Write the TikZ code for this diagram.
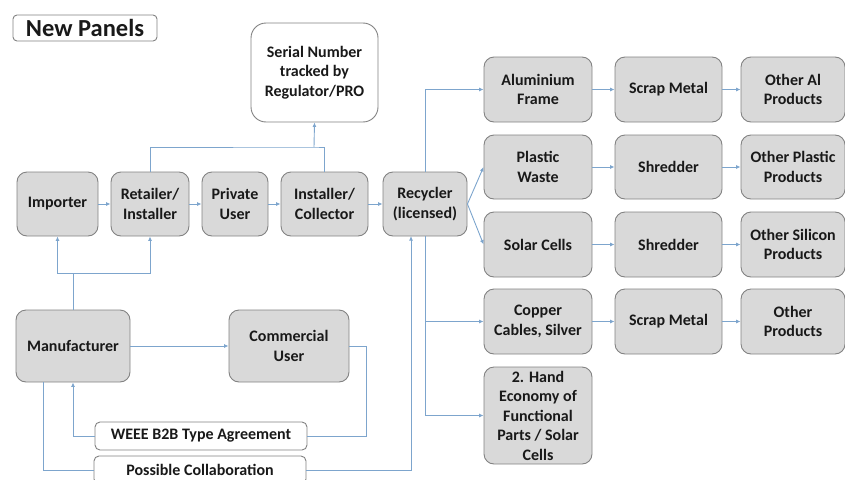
\documentclass[tikz,border=0pt]{standalone}
\usepackage{fontspec}
\setmainfont{Carlito}
\usetikzlibrary{arrows.meta}
\definecolor{boxfill}{RGB}{217,217,217}
\definecolor{boxline}{RGB}{130,130,130}
\definecolor{conn}{RGB}{125,165,205}
\definecolor{txt}{RGB}{25,25,25}
\tikzset{
  gbox/.style={draw=boxline, fill=boxfill, line width=0.9pt, rounded corners=10pt,
    inner sep=0pt, align=center, text=txt, font=\bfseries\fontsize{16}{19.5}\selectfont},
  wbox/.style={gbox, fill=white},
  cline/.style={draw=conn, line width=0.9pt},
  arr/.style={cline, -{Latex[length=4.5pt,width=4pt]}},
}
\newcommand{\bx}[7]{%
  \node[#1, minimum width=#5-#3, minimum height=#6-#4] (#2) at ({(#3+#5)/2},{(#4+#6)/2}) {#7};}
\begin{document}
\begin{tikzpicture}[x=1pt,y=-1pt]
\useasboundingbox (0,0) rectangle (845,479);
% title
\bx{wbox, rounded corners=4pt, font=\bfseries\fontsize{24.5}{28}\selectfont}{title}{13}{15}{157}{41}{New Panels}
\bx{wbox, rounded corners=15pt}{serial}{251}{23}{378}{122}{Serial Number\\tracked by\\Regulator/PRO}
% row 1
\bx{gbox}{imp}{17}{172}{98}{236}{Importer}
\bx{gbox}{ret}{111}{172}{189}{236}{Retailer/\\Installer}
\bx{gbox}{priv}{202}{172}{268}{236}{Private\\User}
\bx{gbox}{inst}{281}{172}{368}{236}{Installer/\\Collector}
\bx{gbox}{rec}{383}{172}{467}{236}{Recycler\\(licensed)}
% lower left
\bx{gbox}{man}{16}{310}{130}{382}{Manufacturer}
\bx{gbox}{com}{229}{310}{349}{382}{Commercial\\User}
\bx{wbox, rounded corners=5pt}{weee}{95}{422}{307}{450}{WEEE B2B Type Agreement}
\bx{wbox, rounded corners=5pt}{poss}{94}{456}{306}{484}{Possible Collaboration}
% right block
\bx{gbox}{al}{484}{57}{592}{122}{Aluminium\\Frame}
\bx{gbox}{scrapA}{615}{57}{722}{122}{Scrap Metal}
\bx{gbox}{otherAl}{741}{57}{845}{122}{Other Al\\Products}
\bx{gbox}{plast}{484}{135}{592}{199}{Plastic\\Waste}
\bx{gbox}{shredA}{615}{135}{722}{199}{Shredder}
\bx{gbox}{otherPl}{741}{135}{845}{199}{Other Plastic\\Products}
\bx{gbox}{solar}{484}{212}{592}{277}{Solar Cells}
\bx{gbox}{shredB}{615}{212}{722}{277}{Shredder}
\bx{gbox}{otherSi}{741}{212}{845}{277}{Other Silicon\\Products}
\bx{gbox}{copper}{484}{289}{592}{354}{Copper\\Cables, Silver}
\bx{gbox}{scrapB}{615}{289}{722}{354}{Scrap Metal}
\bx{gbox}{otherPr}{741}{289}{845}{354}{Other\\Products}
\bx{gbox}{hand}{484}{367}{592}{464}{2. Hand\\Economy of\\Functional\\Parts / Solar\\Cells}
% coordinates
\coordinate (topbar) at (314,147);
\coordinate (mj) at (73,273);
\coordinate (comr) at (366,346);
\coordinate (mandown) at (43,382);
\coordinate (recin) at (411,236);
% row 1 arrows
\draw[arr] (imp.east) -- (ret.west);
\draw[arr] (ret.east) -- (priv.west);
\draw[arr] (priv.east) -- (inst.west);
\draw[arr] (inst.east) -- (rec.west);
% serial number tracking
\draw[cline] (ret.north) |- (topbar) -| (inst.north);
\draw[arr] (topbar) -- (serial.south);
% manufacturer links
\draw[cline] (man.north) -- (mj);
\draw[arr] (mj) -| (imp.south);
\draw[arr] (mj) -| (ret.south);
\draw[arr] (man.east) -- (com.west);
\draw[cline] (com.east) -- (comr) |- (weee.east);
\draw[arr] (weee.west) -| (man.south);
\draw[cline] (mandown) |- (poss.west);
\draw[arr] (poss.east) -| (recin);
% recycler outputs
\draw[arr] (rec.north) |- (al.west);
\draw[arr] (rec.east) -- (plast.west);
\draw[arr] (rec.east) -- (solar.west);
\draw[arr] (rec.south) |- (copper.west);
\draw[arr] (rec.south) |- (hand.west);
% chains
\draw[arr] (al.east) -- (scrapA.west);
\draw[arr] (scrapA.east) -- (otherAl.west);
\draw[arr] (plast.east) -- (shredA.west);
\draw[arr] (shredA.east) -- (otherPl.west);
\draw[arr] (solar.east) -- (shredB.west);
\draw[arr] (shredB.east) -- (otherSi.west);
\draw[arr] (copper.east) -- (scrapB.west);
\draw[arr] (scrapB.east) -- (otherPr.west);
\end{tikzpicture}
\end{document}
